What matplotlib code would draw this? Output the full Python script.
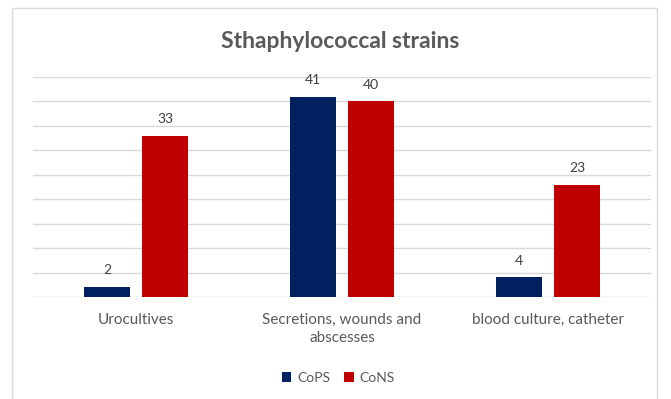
import matplotlib.pyplot as plt
from matplotlib.patches import Rectangle

# data
categories = ['Urocultives', 'Secretions, wounds and\nabscesses', 'blood culture, catheter']
cops = [2, 41, 4]
cons = [33, 40, 23]
series_names = ['CoPS', 'CoNS']
colors = ['#002060', '#C00000']

plt.rcParams['font.family'] = ['Lato', 'DejaVu Sans']

fig = plt.figure(figsize=(6.71, 3.99), dpi=100)
ax = fig.add_axes([33 / 671, (399 - 297) / 399, 618 / 671, (297 - 77) / 399])

# outer frame of the chart
fig.patches.append(Rectangle((12 / 671, -0.05), 645 / 671, (399 - 8) / 399 + 0.05,
                             transform=fig.transFigure, fill=False,
                             edgecolor='#d9d9d9', linewidth=1))

x = range(len(categories))
w = 0.223
off = 0.141
b1 = ax.bar([i - off for i in x], cops, width=w, color=colors[0], label=series_names[0], zorder=3)
b2 = ax.bar([i + off for i in x], cons, width=w, color=colors[1], label=series_names[1], zorder=3)

for bars in (b1, b2):
    for r in bars:
        ax.text(r.get_x() + r.get_width() / 2, r.get_height() + 2.2, str(int(r.get_height())),
                ha='center', va='bottom', fontsize=10, color='#404040')

ax.set_xlim(-0.5, 2.5)
ax.set_ylim(0, 45)
ax.set_yticks(range(0, 46, 5))
ax.yaxis.grid(True, color='#d9d9d9', linewidth=1, zorder=0)
ax.tick_params(axis='y', left=False, labelleft=False)
ax.tick_params(axis='x', bottom=False, pad=8)
ax.set_xticks(list(x))
ax.set_xticklabels(categories, fontsize=11, color='#595959', linespacing=1.35, va='top')
for s in ax.spines.values():
    s.set_visible(False)

fig.text(340 / 671, 1 - 42 / 399, 'Sthaphylococcal strains', ha='center', va='center',
         fontsize=16.5, fontweight='bold', color='#595959')

fig.legend(handles=[b1, b2], labels=series_names, loc='center', bbox_to_anchor=(338 / 671, 1 - 378 / 399),
           ncol=2, frameon=False, fontsize=10, handlelength=0.7, handleheight=0.7,
           handletextpad=0.4, columnspacing=1.0, labelcolor='#595959')

fig.savefig('out.png', dpi=100)
